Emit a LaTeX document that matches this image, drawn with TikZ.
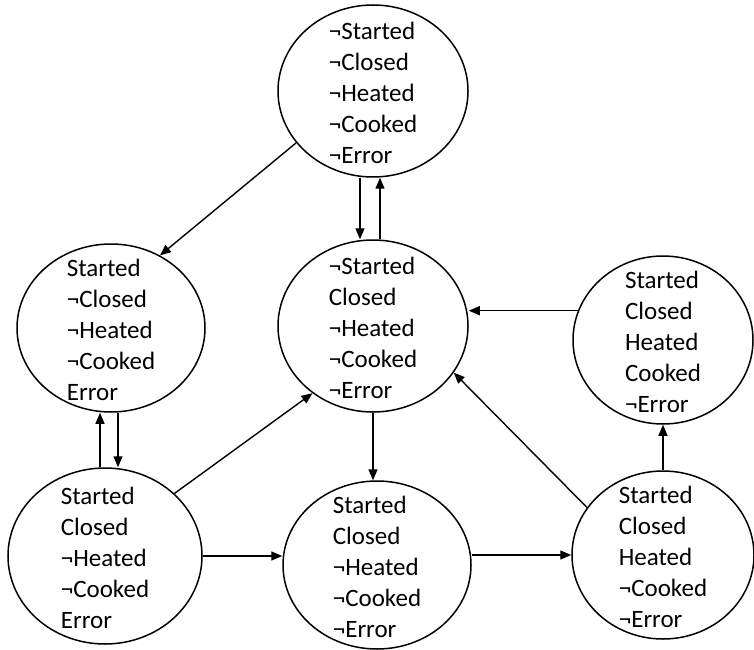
\documentclass[tikz,border=0pt]{standalone}
\usepackage{fontspec}
\setmainfont{Carlito}
\usepackage{tikz}
\usetikzlibrary{arrows.meta, shapes.geometric}

\newcommand{\statelines}[1]{\smash{\raisebox{-5pt}{\begin{tabular}{@{}l@{}}#1\end{tabular}}}}

\begin{document}
\begin{tikzpicture}[x=0.5pt, y=0.5pt, >={Triangle[length=5.5pt, width=4.5pt]},
  state/.style={draw, ellipse, line width=0.75pt, inner sep=0pt,
    minimum width=94pt, minimum height=84pt, font=\fontsize{12.5}{15.5}\selectfont},
  link/.style={->, line width=0.7pt}]
  \useasboundingbox (0,0) rectangle (754,649);

  % states
  \node[state, minimum width=95pt, minimum height=86pt] (top) at (373,558)
    {\statelines{¬Started\\ ¬Closed\\ ¬Heated\\ ¬Cooked\\ ¬Error}};
  \node[state] (lft) at (111,321)
    {\statelines{Started\\ ¬Closed\\ ¬Heated\\ ¬Cooked\\ Error}};
  \node[state, minimum width=95pt, minimum height=86pt] (mid) at (373,323)
    {\statelines{¬Started\\ Closed\\ ¬Heated\\ ¬Cooked\\ ¬Error}};
  \node[state, minimum width=90pt] (rgt) at (663,309)
    {\statelines{Started\\ Closed\\ Heated\\ Cooked\\ ¬Error}};
  \node[state, minimum width=97pt, minimum height=88pt] (bl) at (105,93)
    {\statelines{Started\\ Closed\\ ¬Heated\\ ¬Cooked\\ Error}};
  \node[state] (bm) at (377,84)
    {\statelines{Started\\ Closed\\ ¬Heated\\ ¬Cooked\\ ¬Error}};
  \node[state, minimum width=91pt] (br) at (663,94)
    {\statelines{Started\\ Closed\\ Heated\\ ¬Cooked\\ ¬Error}};

  % transitions
  \draw[link] (top.214) -- (lft.56);
  \draw[link] ([xshift=-6.5pt]top.south) -- ([xshift=-6.5pt]top.south |- mid.north);
  \draw[link] ([xshift=3.5pt]mid.north) -- ([xshift=3.5pt]mid.north |- top.south);
  \draw[link] ([xshift=3.5pt]lft.south) -- ([xshift=3.5pt]lft.south |- bl.north);
  \draw[link] ([xshift=-5.5pt]lft.south |- bl.north) -- ([xshift=-5.5pt]lft.south);
  \draw[link] (bl.42) -- (mid.228);
  \draw[link] (bl.east) -- (bl.east -| bm.west);
  \draw[link] (mid.south) -- (mid.south |- bm.north);
  \draw[link] (br.west -| bm.east) -- (br.west);
  \draw[link] (br.148) -- (mid.330);
  \draw[link] (rgt.161) -- (rgt.161 -| mid.east);
  \draw[link] (br.north) -- (rgt.south);
\end{tikzpicture}
\end{document}
